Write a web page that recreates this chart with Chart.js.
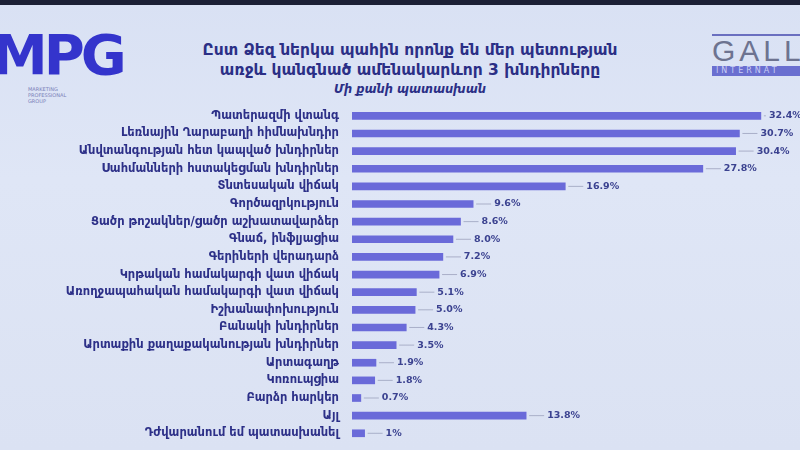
<!DOCTYPE html>
<html>
<head>
<meta charset="utf-8">
<script src="https://cdn.jsdelivr.net/npm/chart.js@4"></script>
<style>
  html, body { margin: 0; padding: 0; }
  body {
    width: 800px; height: 450px; overflow: hidden; position: relative;
    background: linear-gradient(180deg, #d9e1f4 0%, #dfe6f6 40%, #dbe2f3 100%);
    font-family: "DejaVu Sans", sans-serif;
  }
  #topband { position: absolute; left: 0; top: 0; width: 800px; height: 5px; background: #1c2036; }
  #wrap { position: absolute; left: 0; top: 0; width: 800px; height: 450px; overflow: hidden; }
  .title { position: absolute; left: 110px; width: 600px; text-align: center; color: #2b2f86; font-weight: bold; }
  #t1 { top: 41px; font-size: 15.5px; }
  #t2 { top: 61px; font-size: 15.5px; }
  #t3 { top: 82px; font-size: 11.5px; font-style: italic; }
  #mpg { position: absolute; left: -8px; top: 22px; font: bold 56px "DejaVu Sans", sans-serif; color: #3434cc; letter-spacing: -4px; }
  #mpgsub { position: absolute; left: 28px; top: 86px; font: 5px "DejaVu Sans", sans-serif; color: #7a7fb8; line-height: 6px; }
  #gallup { position: absolute; left: 712px; top: 34px; width: 100px; border-top: 2px solid #6a6fc0; }
  #gallup .g { font: 30px "Liberation Sans", sans-serif; color: #6d7390; letter-spacing: 4px; line-height: 30px; }
  #gallup .i { background: #6a6fd0; color: #c9cdf5; font: 8px "DejaVu Sans", sans-serif; letter-spacing: 3px; padding-left: 4px; height: 10px; }
</style>
</head>
<body>
<div id="topband"></div>
<div id="mpg">MPG</div>
<div id="mpgsub">MARKETING<br>PROFESSIONAL<br>GROUP</div>
<div id="gallup"><div class="g">GALL</div><div class="i">INTERNAT</div></div>
<div class="title" id="t1">Ըստ Ձեզ ներկա պահին որոնք են մեր պետության</div>
<div class="title" id="t2">առջև կանգնած ամենակարևոր 3 խնդիրները</div>
<div class="title" id="t3">Մի քանի պատասխան</div>
<div id="wrap"><canvas id="chart" width="800" height="454"></canvas></div>
<script>
const categories = [
  "Պատերազմի վտանգ",
  "Լեռնային Ղարաբաղի հիմնախնդիր",
  "Անվտանգության հետ կապված խնդիրներ",
  "Սահմանների հստակեցման խնդիրներ",
  "Տնտեսական վիճակ",
  "Գործազրկություն",
  "Ցածր թոշակներ/ցածր աշխատավարձեր",
  "Գնաճ, ինֆլյացիա",
  "Գերիների վերադարձ",
  "Կրթական համակարգի վատ վիճակ",
  "Առողջապահական համակարգի վատ վիճակ",
  "Իշխանափոխություն",
  "Բանակի խնդիրներ",
  "Արտաքին քաղաքականության խնդիրներ",
  "Արտագաղթ",
  "Կոռուպցիա",
  "Բարձր հարկեր",
  "Այլ",
  "Դժվարանում եմ պատասխանել"
];
const values = [32.4, 30.7, 30.4, 27.8, 16.9, 9.6, 8.6, 8.0, 7.2, 6.9, 5.1, 5.0, 4.3, 3.5, 1.9, 1.8, 0.7, 13.8, 1];
const valueLabels = ["32.4%", "30.7%", "30.4%", "27.8%", "16.9%", "9.6%", "8.6%", "8.0%", "7.2%", "6.9%", "5.1%", "5.0%", "4.3%", "3.5%", "1.9%", "1.8%", "0.7%", "13.8%", "1%"];

// leader line + value text at the end of each bar
const endLabels = {
  id: "endLabels",
  afterDatasetsDraw(chart) {
    const ctx = chart.ctx;
    const meta = chart.getDatasetMeta(0);
    ctx.save();
    ctx.font = "bold 9.5px 'DejaVu Sans'";
    ctx.textBaseline = "middle";
    meta.data.forEach((bar, i) => {
      const gap = i === 0 ? 8 : 21; // top label sits close to its bar
      ctx.strokeStyle = "#a9afc8";
      ctx.lineWidth = 1;
      ctx.beginPath();
      ctx.moveTo(bar.x + 3, bar.y);
      ctx.lineTo(bar.x + gap - 3, bar.y);
      ctx.stroke();
      ctx.fillStyle = "#3b4290";
      ctx.fillText(valueLabels[i], bar.x + gap, bar.y);
    });
    ctx.restore();
  }
};

new Chart(document.getElementById("chart"), {
  type: "bar",
  data: {
    labels: categories,
    datasets: [{
      data: values,
      backgroundColor: "#6a6ad9",
      barThickness: 7
    }]
  },
  options: {
    indexAxis: "y",
    responsive: false,
    animation: false,
    layout: { padding: { top: 107, bottom: 0, right: 0, left: 0 } },
    plugins: {
      legend: { display: false },
      tooltip: { enabled: false }
    },
    scales: {
      x: {
        display: false,
        min: 0,
        max: 35.5
      },
      y: {
        grid: { display: false },
        border: { display: false },
        ticks: {
          padding: 5,
          color: "#2d3088",
          font: { family: "DejaVu Sans", size: 11.5, weight: "bold" }
        },
        afterFit(scale) { scale.width = 352; }
      }
    }
  },
  plugins: [endLabels]
});
</script>
</body>
</html>
